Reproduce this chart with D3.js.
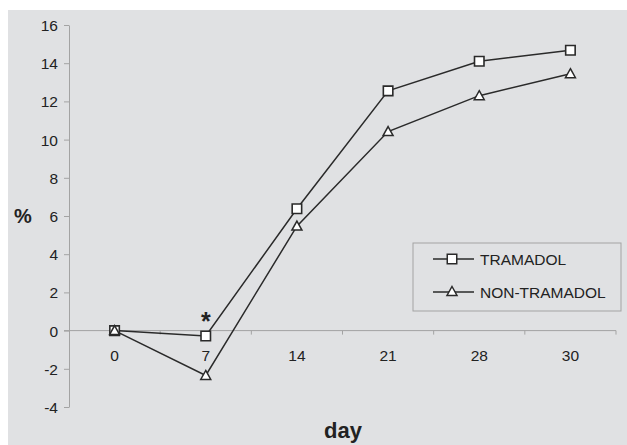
<!DOCTYPE html>
<html>
<head>
<meta charset="utf-8">
<script src="https://cdn.jsdelivr.net/npm/d3@7"></script>
<style>
  body { margin: 0; background: #fff; }
  text { font-family: "Liberation Sans", Arial, sans-serif; fill: #222; }
</style>
</head>
<body>
<div id="chart"></div>
<script>
// chart values
const days = ['0', '7', '14', '21', '28', '30'];
const tramadol = [0, -0.28, 6.38, 12.55, 14.1, 14.68];
const nonTramadol = [0, -2.35, 5.47, 10.42, 12.3, 13.45];
const yTicks = [-4, -2, 0, 2, 4, 6, 8, 10, 12, 14, 16];
const seriesNames = ['TRAMADOL', 'NON-TRAMADOL'];

const width = 627;
const height = 445;
const ink = '#2a2a2a';
const axisGrey = '#a3a3a3';

const svg = d3.select('#chart')
  .append('svg')
    .attr('width', width)
    .attr('height', height);

// grey panel
svg.append('rect')
    .attr('x', 8)
    .attr('y', 10)
    .attr('width', width - 8)
    .attr('height', height - 10)
    .attr('fill', '#e0e1e3');

const x = d3.scaleBand()
    .domain(days)
    .range([69, 616])
    .padding(0);

const y = d3.scaleLinear()
    .domain([-4, 16])
    .range([407, 25]);

const cx = d => x(d) + x.bandwidth() / 2;

// y axis
const yAxis = svg.append('g')
    .attr('transform', 'translate(69,0)')
    .call(d3.axisLeft(y)
      .tickValues(yTicks)
      .tickFormat(d => String(d))
      .tickSize(5)
      .tickSizeOuter(0)
      .tickPadding(6));
yAxis.select('.domain').attr('stroke', axisGrey);
yAxis.selectAll('.tick line').attr('stroke', axisGrey);
yAxis.selectAll('.tick text')
    .attr('font-size', 15.5)
    .attr('fill', '#222')
    .attr('dy', '0.36em');

// x axis at zero
const xAxis = svg.append('g')
    .attr('transform', `translate(0,${y(0)})`);
xAxis.append('line')
    .attr('x1', 64)
    .attr('x2', x.range()[1])
    .attr('stroke', axisGrey);
xAxis.selectAll('.bound')
  .data(days.slice(1).map(d => x(d)).concat([x.range()[1]]))
  .join('line')
    .attr('class', 'bound')
    .attr('x1', d => d)
    .attr('x2', d => d)
    .attr('y1', 0)
    .attr('y2', 4)
    .attr('stroke', axisGrey);
xAxis.selectAll('.lbl')
  .data(days)
  .join('text')
    .attr('class', 'lbl')
    .attr('x', d => cx(d))
    .attr('y', 30)
    .attr('text-anchor', 'middle')
    .attr('font-size', 15.5)
    .text(d => d);

// axis titles
svg.append('text')
    .attr('x', 23)
    .attr('y', y(6))
    .attr('dy', '0.36em')
    .attr('text-anchor', 'middle')
    .attr('font-size', 20)
    .attr('font-weight', 'bold')
    .text('%');

svg.append('text')
    .attr('x', 343)
    .attr('y', 438)
    .attr('text-anchor', 'middle')
    .attr('font-size', 22)
    .attr('font-weight', 'bold')
    .text('day');

// lines
const line = d3.line()
    .x((d, i) => cx(days[i]))
    .y(d => y(d));

[tramadol, nonTramadol].forEach(s => {
  svg.append('path')
      .datum(s)
      .attr('d', line)
      .attr('fill', 'none')
      .attr('stroke', ink)
      .attr('stroke-width', 1.5);
});

const square = d3.symbol().type(d3.symbolSquare).size(90);
const triangle = 'M0,-5.5L5,3.5L-5,3.5Z';

svg.append('g')
  .selectAll('path')
  .data(tramadol)
  .join('path')
    .attr('transform', (d, i) => `translate(${cx(days[i])},${y(d)})`)
    .attr('d', square)
    .attr('fill', '#fff')
    .attr('stroke', ink)
    .attr('stroke-width', 1.6);

svg.append('g')
  .selectAll('path')
  .data(nonTramadol)
  .join('path')
    .attr('transform', (d, i) => `translate(${cx(days[i])},${y(d) + 0.5})`)
    .attr('d', triangle)
    .attr('fill', '#fff')
    .attr('stroke', ink)
    .attr('stroke-width', 1.5);

// significance mark
svg.append('text')
    .attr('x', cx('7'))
    .attr('y', y(tramadol[1]) - 6)
    .attr('text-anchor', 'middle')
    .attr('font-size', 25)
    .attr('font-weight', 'bold')
    .text('*');

// legend
const legend = svg.append('g')
    .attr('transform', 'translate(413,243)');
legend.append('rect')
    .attr('width', 208)
    .attr('height', 68)
    .attr('fill', 'none')
    .attr('stroke', axisGrey);

const rows = legend.selectAll('.row')
  .data(seriesNames)
  .join('g')
    .attr('class', 'row')
    .attr('transform', (d, i) => `translate(0,${16 + i * 33})`);
rows.append('line')
    .attr('x1', 20)
    .attr('x2', 61)
    .attr('stroke', ink)
    .attr('stroke-width', 1.5);
rows.append('path')
    .attr('transform', 'translate(39,0)')
    .attr('d', (d, i) => i === 0 ? square() : triangle)
    .attr('fill', '#fff')
    .attr('stroke', ink)
    .attr('stroke-width', 1.5);
rows.append('text')
    .attr('x', 67)
    .attr('dy', '0.36em')
    .attr('font-size', 15.5)
    .text(d => d);
</script>
</body>
</html>
